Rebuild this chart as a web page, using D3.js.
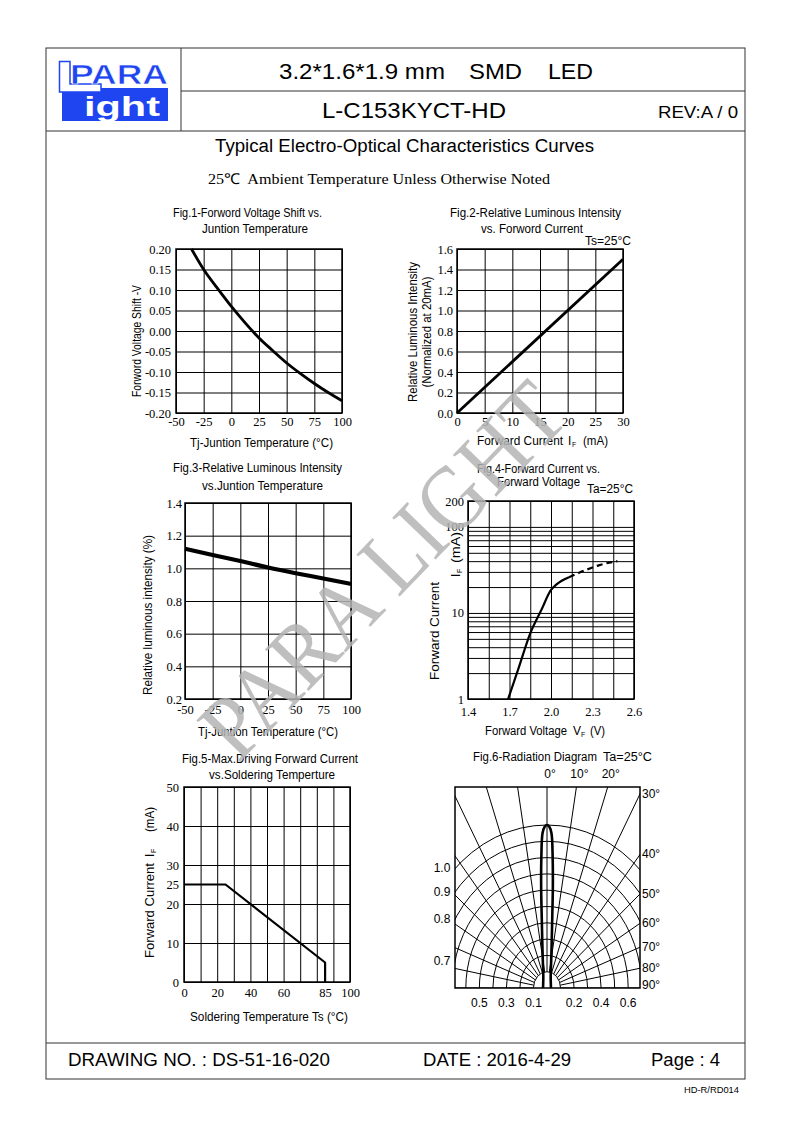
<!DOCTYPE html>
<html>
<head>
<meta charset="utf-8">
<script src="https://cdn.jsdelivr.net/npm/d3@7"></script>
<style>
  body { margin: 0; background: #fff; }
  svg { display: block; }
</style>
</head>
<body>
<svg width="793" height="1123"></svg>
<script>
// ---- data ----
// Fig.1 forward voltage shift vs junction temperature
const fig1Temp  = [-36, -25, -12.5, 0, 12.5, 25, 37.5, 50, 62.5, 75, 87.5, 100];
const fig1Shift = [0.20, 0.15, 0.104, 0.06, 0.02, -0.017, -0.048, -0.078, -0.104, -0.128, -0.15, -0.17];
const fig1XTicks = [-50, -25, 0, 25, 50, 75, 100];
const fig1YTicks = [-0.20, -0.15, -0.10, -0.05, 0.00, 0.05, 0.10, 0.15, 0.20];

// Fig.2 relative luminous intensity vs forward current
const fig2Current = [0, 30];
const fig2Intensity = [0, 1.5];
const fig2XTicks = [0, 5, 10, 15, 20, 25, 30];
const fig2YTicks = [0.0, 0.2, 0.4, 0.6, 0.8, 1.0, 1.2, 1.4, 1.6];

// Fig.3 relative luminous intensity vs junction temperature
const fig3Temp = [-50, -25, 0, 25, 50, 75, 100];
const fig3Intensity = [1.12, 1.082, 1.045, 1.005, 0.97, 0.938, 0.905];
const fig3XTicks = [-50, -25, 0, 25, 50, 75, 100];
const fig3YTicks = [0.2, 0.4, 0.6, 0.8, 1.0, 1.2, 1.4];

// Fig.4 forward current vs forward voltage (log)
const fig4VoltSolid = [1.69, 1.77, 1.85, 1.93, 2.0, 2.04, 2.13];
const fig4CurrSolid = [1, 2.4, 5.8, 10.8, 18.5, 21.5, 26];
const fig4VoltDash = [2.13, 2.25, 2.35, 2.48];
const fig4CurrDash = [26, 31.5, 36, 40];
const fig4XGrid = [1.4, 1.55, 1.7, 1.85, 2.0, 2.15, 2.3, 2.45, 2.6];
const fig4XTicks = [1.4, 1.7, 2.0, 2.3, 2.6];
const fig4YGrid = [1, 2, 3, 4, 5, 6, 7, 8, 9, 10, 20, 30, 40, 50, 60, 70, 80, 90, 100, 200];
const fig4YTicks = [1, 10, 100, 200];

// Fig.5 max driving forward current vs soldering temperature
const fig5Temp = [0, 25, 85, 85];
const fig5Current = [25, 25, 5, 0];
const fig5XGrid = [0, 10, 20, 30, 40, 50, 60, 70, 80, 90, 100];
const fig5XTicks = [0, 20, 40, 60, 85, 100];
const fig5YGrid = [0, 10, 20, 30, 40, 50];
const fig5YTicks = [0, 10, 20, 25, 30, 40, 50];

// Fig.6 radiation diagram
const fig6Angle = [-90, -75, -60, -45, -30, -20, -15, -10, -8, -6, -5, -4, -3, -2, -1, 0,
                   1, 2, 3, 4, 5, 6, 8, 10, 15, 20, 30, 45, 60, 75, 90];
const fig6Intensity = [0.028, 0.03, 0.033, 0.04, 0.055, 0.08, 0.11, 0.18, 0.24, 0.35, 0.45, 0.62, 0.80, 0.95, 0.99, 1.0,
                       0.99, 0.95, 0.80, 0.62, 0.45, 0.35, 0.24, 0.18, 0.11, 0.08, 0.055, 0.04, 0.033, 0.03, 0.028];
const fig6Rings = [0.1, 0.2, 0.3, 0.4, 0.5, 0.6, 0.7, 0.8, 0.9, 1.0];
const fig6Spokes = [-90, -80, -70, -60, -50, -40, -30, -20, -10, 0, 10, 20, 30, 40, 50, 60, 70, 80, 90];
const fig6TopAngles = [0, 10, 20];
const fig6SideAngles = [30, 40, 50, 60, 70, 80, 90];
const fig6LeftRings = [0.7, 0.8, 0.9, 1.0];
const fig6BottomRings = [0.1, 0.2, 0.3, 0.4, 0.5, 0.6];

// ---- drawing ----
const svg = d3.select("svg");
const sans = '"Liberation Sans", Arial, sans-serif';
const serif = '"Liberation Serif", "Times New Roman", serif';
const blue = "#1f45f0";

function txt(g, s, x, y, o = {}) {
  const t = g.append("text")
    .attr("x", x).attr("y", y)
    .attr("font-size", o.size || 12)
    .attr("font-family", o.serif ? serif : sans)
    .attr("font-weight", o.bold ? "bold" : null)
    .attr("text-anchor", o.anchor || "middle")
    .attr("fill", o.fill || "#000")
    .style("white-space", "pre")
    .text(s);
  if (o.w) t.attr("textLength", o.w).attr("lengthAdjust", "spacingAndGlyphs");
  if (o.rot) t.attr("transform", `rotate(-90,${x},${y})`);
  return t;
}

// page frame
const frame = svg.append("g").attr("stroke", "#333").attr("stroke-width", 1).attr("fill", "none");
frame.append("rect").attr("x", 46).attr("y", 48).attr("width", 699).attr("height", 1031);
frame.append("line").attr("x1", 181).attr("x2", 181).attr("y1", 48).attr("y2", 131);
frame.append("line").attr("x1", 181).attr("x2", 745).attr("y1", 91).attr("y2", 91);
frame.append("line").attr("x1", 46).attr("x2", 745).attr("y1", 131).attr("y2", 131);
frame.append("line").attr("x1", 46).attr("x2", 745).attr("y1", 1043).attr("y2", 1043);

// logo
const logo = svg.append("g");
logo.append("rect").attr("x", 62).attr("y", 88).attr("width", 106).attr("height", 33).attr("fill", blue);
logo.append("path").attr("d", "M59.5,61.5 H70 V84 H101 V92 H59.5 Z")
  .attr("fill", "#fff").attr("stroke", blue).attr("stroke-width", 1.5);
txt(logo, "PARA", 168, 84, { size: 28, bold: true, anchor: "end", w: 98, fill: blue })
  .attr("stroke", "#fff").attr("stroke-width", 0.6);
txt(logo, "ight", 84, 116, { size: 27, bold: true, anchor: "start", w: 76, fill: "#fff" });

// header texts
const head = svg.append("g");
txt(head, "3.2*1.6*1.9 mm", 279, 79, { size: 22, anchor: "start", w: 166 });
txt(head, "SMD", 469, 79, { size: 22, anchor: "start", w: 53 });
txt(head, "LED", 548, 79, { size: 22, anchor: "start", w: 45 });
txt(head, "L-C153KYCT-HD", 322, 118, { size: 22, anchor: "start", w: 184 });
txt(head, "REV:A / 0", 658, 118, { size: 16.5, anchor: "start", w: 80 });
txt(head, "Typical Electro-Optical Characteristics Curves", 215, 152, { size: 18, anchor: "start", w: 379 });
txt(head, "25℃  Ambient Temperature Unless Otherwise Noted", 208, 184, { size: 15, serif: true, anchor: "start", w: 342 });

// footer texts
txt(head, "DRAWING NO. : DS-51-16-020", 68, 1066, { size: 17.5, anchor: "start", w: 262 });
txt(head, "DATE : 2016-4-29", 423, 1066, { size: 17.5, anchor: "start", w: 148 });
txt(head, "Page : 4", 651, 1066, { size: 17.5, anchor: "start", w: 69 });
txt(head, "HD-R/RD014", 739, 1093, { size: 8.5, anchor: "end", w: 55 });

// grid + frame for a cartesian figure
function plotBox(g, x, y, xGrid, yGrid) {
  const [l, r] = x.range(), [b, t] = y.range();
  g.append("g").attr("transform", `translate(0,${b})`)
    .call(d3.axisBottom(x).tickValues(xGrid).tickSize(-(b - t)).tickFormat(""))
    .call(a => a.select(".domain").remove())
    .selectAll("line").attr("stroke", "#000").attr("stroke-width", 1);
  g.append("g").attr("transform", `translate(${l},0)`)
    .call(d3.axisLeft(y).tickValues(yGrid).tickSize(-(r - l)).tickFormat(""))
    .call(a => a.select(".domain").remove())
    .selectAll("line").attr("stroke", "#000").attr("stroke-width", 1);
  g.append("rect").attr("x", l).attr("y", t).attr("width", r - l).attr("height", b - t)
    .attr("fill", "none").attr("stroke", "#000").attr("stroke-width", 1.5);
}

function tickLabels(g, x, y, xTicks, yTicks, xFmt, yFmt, xPad, yPad) {
  const l = x.range()[0], b = y.range()[0];
  g.append("g").attr("transform", `translate(0,${b})`)
    .call(d3.axisBottom(x).tickValues(xTicks).tickSize(0).tickPadding(xPad).tickFormat(xFmt))
    .call(a => a.select(".domain").remove())
    .selectAll("text").attr("font-family", serif).attr("font-size", 12.5).attr("fill", "#000");
  g.append("g").attr("transform", `translate(${l},0)`)
    .call(d3.axisLeft(y).tickValues(yTicks).tickSize(0).tickPadding(yPad).tickFormat(yFmt))
    .call(a => a.select(".domain").remove())
    .selectAll("text").attr("font-family", serif).attr("font-size", 12.5).attr("fill", "#000");
}

function curve(g, xs, ys, x, y, width, shape, dash) {
  const pts = xs.map((v, i) => [v, ys[i]]);
  g.append("path").datum(pts)
    .attr("fill", "none").attr("stroke", "#000").attr("stroke-width", width)
    .attr("stroke-dasharray", dash || null)
    .attr("stroke-linejoin", "round")
    .attr("d", d3.line().x(d => x(d[0])).y(d => y(d[1])).curve(shape));
}

// Fig.1
const f1 = svg.append("g");
const x1 = d3.scaleLinear().domain([-50, 100]).range([176, 342]);
const y1 = d3.scaleLinear().domain([-0.2, 0.2]).range([413, 249]);
plotBox(f1, x1, y1, fig1XTicks, fig1YTicks);
tickLabels(f1, x1, y1, fig1XTicks, fig1YTicks, d => String(d), d => d.toFixed(2), 4, 5);
curve(f1, fig1Temp, fig1Shift, x1, y1, 2.8, d3.curveMonotoneX);
txt(f1, "Fig.1-Forword Voltage Shift vs.", 247.5, 217, { w: 149 });
txt(f1, "Juntion Temperature", 255, 233, { w: 106 });
txt(f1, "Forword Voltage Shift -V", 141, 341, { rot: true, w: 112 });
txt(f1, "Tj-Juntion Temperature (°C)", 261.5, 447, { w: 143 });

// Fig.2
const f2 = svg.append("g");
const x2 = d3.scaleLinear().domain([0, 30]).range([457, 623]);
const y2 = d3.scaleLinear().domain([0, 1.6]).range([413, 249]);
plotBox(f2, x2, y2, fig2XTicks, fig2YTicks);
tickLabels(f2, x2, y2, fig2XTicks, fig2YTicks, d => String(d), d => d.toFixed(1), 4, 4);
curve(f2, fig2Current, fig2Intensity, x2, y2, 2.8, d3.curveLinear);
txt(f2, "Fig.2-Relative Luminous Intensity", 535.5, 217, { w: 171 });
txt(f2, "vs. Forword Current", 532, 233, { w: 102 });
txt(f2, "Ts=25°C", 585, 245, { anchor: "start", w: 46 });
txt(f2, "Relative Luminous Intensity", 417, 332, { rot: true, w: 140 });
txt(f2, "(Normalized at 20mA)", 431, 332, { rot: true, w: 111 });
txt(f2, "Forward Current", 477, 445, { anchor: "start", w: 86 });
txt(f2, "I", 568, 445, { anchor: "start" });
txt(f2, "F", 572, 447, { anchor: "start", size: 7 });
txt(f2, "(mA)", 583, 445, { anchor: "start", w: 25 });

// Fig.3
const f3 = svg.append("g");
const x3 = d3.scaleLinear().domain([-50, 100]).range([185, 351]);
const y3 = d3.scaleLinear().domain([0.2, 1.4]).range([699, 503]);
plotBox(f3, x3, y3, fig3XTicks, fig3YTicks);
tickLabels(f3, x3, y3, fig3XTicks, fig3YTicks, d => String(d), d => d.toFixed(1), 6, 3);
curve(f3, fig3Temp, fig3Intensity, x3, y3, 4.2, d3.curveMonotoneX);
txt(f3, "Fig.3-Relative Luminous Intensity", 257.5, 472, { w: 169 });
txt(f3, "vs.Juntion Temperature", 262.5, 490, { w: 121 });
txt(f3, "Relative luminous intensity (%)", 152, 615, { rot: true, w: 160 });
txt(f3, "Tj-Juntion Temperature (°C)", 268, 736, { w: 140 });

// Fig.4
const f4 = svg.append("g");
const x4 = d3.scaleLinear().domain([1.4, 2.6]).range([468, 634]);
const y4 = d3.scaleLog().domain([1, 200]).range([699, 501]);
plotBox(f4, x4, y4, fig4XGrid, fig4YGrid);
tickLabels(f4, x4, y4, fig4XTicks, fig4YTicks, d => d.toFixed(1), d => String(d), 8, 4);
curve(f4, fig4VoltSolid, fig4CurrSolid, x4, y4, 2.2, d3.curveMonotoneX);
curve(f4, fig4VoltDash, fig4CurrDash, x4, y4, 2.2, d3.curveMonotoneX, "6,4");
txt(f4, "Fig.4-Forward Current vs.", 538.5, 473, { w: 123 });
txt(f4, "Forward Voltage", 538.5, 486, { w: 83 });
txt(f4, "Ta=25°C", 587, 493, { anchor: "start", w: 46 });
txt(f4, "Forward Current", 439, 680, { rot: true, anchor: "start", w: 98 });
txt(f4, "I", 460, 577, { rot: true, anchor: "start" });
txt(f4, "F", 462, 573, { rot: true, anchor: "start", size: 7 });
txt(f4, "(mA)", 460, 563, { rot: true, anchor: "start", w: 31 });
txt(f4, "Forward Voltage", 485, 735, { anchor: "start", w: 82 });
txt(f4, "V", 573, 735, { anchor: "start" });
txt(f4, "F", 581, 737, { anchor: "start", size: 7 });
txt(f4, "(V)", 590, 735, { anchor: "start", w: 15 });

// Fig.5
const f5 = svg.append("g");
const x5 = d3.scaleLinear().domain([0, 100]).range([184, 350]);
const y5 = d3.scaleLinear().domain([0, 50]).range([982, 787]);
plotBox(f5, x5, y5, fig5XGrid, fig5YGrid);
tickLabels(f5, x5, y5, fig5XTicks, fig5YTicks, d => String(d), d => String(d), 6, 5);
curve(f5, fig5Temp, fig5Current, x5, y5, 2.2, d3.curveLinear);
txt(f5, "Fig.5-Max.Driving Forward Current", 270, 763, { w: 176 });
txt(f5, "vs.Soldering Temperture", 272, 779, { w: 126 });
txt(f5, "Forward Current", 154, 958, { rot: true, anchor: "start", w: 95 });
txt(f5, "I", 154, 857, { rot: true, anchor: "start" });
txt(f5, "F", 156, 853, { rot: true, anchor: "start", size: 7 });
txt(f5, "(mA)", 154, 832, { rot: true, anchor: "start", w: 25 });
txt(f5, "Soldering Temperature Ts (°C)", 269, 1021, { w: 158 });

// Fig.6 radiation diagram (drawing is squashed horizontally)
const f6 = svg.append("g");
const box = { l: 455, r: 640, t: 787, b: 988 };
const cx = 547, cy = 988, squash = 0.83;
const rad = d3.scaleLinear().domain([0, 1]).range([0, 163]);
const toRad = a => a * Math.PI / 180;

f6.append("clipPath").attr("id", "f6clip").append("rect")
  .attr("x", box.l).attr("y", box.t).attr("width", box.r - box.l).attr("height", box.b - box.t);
const polar = f6.append("g").attr("clip-path", "url(#f6clip)")
  .append("g").attr("transform", `translate(${cx},${cy}) scale(${squash},1)`);

polar.selectAll("circle").data(fig6Rings).join("circle")
  .attr("r", d => rad(d)).attr("fill", "none").attr("stroke", "#000")
  .attr("stroke-width", 1).attr("vector-effect", "non-scaling-stroke");
polar.selectAll("line").data(fig6Spokes).join("line")
  .attr("x1", d => rad(0.1) * Math.sin(toRad(d))).attr("y1", d => -rad(0.1) * Math.cos(toRad(d)))
  .attr("x2", d => rad(3) * Math.sin(toRad(d))).attr("y2", d => -rad(3) * Math.cos(toRad(d)))
  .attr("stroke", "#000").attr("stroke-width", 1).attr("vector-effect", "non-scaling-stroke");
polar.append("path").datum(fig6Angle.map((a, i) => [a, fig6Intensity[i]]))
  .attr("fill", "none").attr("stroke", "#000").attr("stroke-width", 2.6)
  .attr("vector-effect", "non-scaling-stroke")
  .attr("d", d3.lineRadial().angle(d => toRad(d[0])).radius(d => rad(d[1])).curve(d3.curveCatmullRom));

f6.append("rect").attr("x", box.l).attr("y", box.t).attr("width", box.r - box.l).attr("height", box.b - box.t)
  .attr("fill", "none").attr("stroke", "#000").attr("stroke-width", 1.5);

// where a spoke leaves the box
function spokeHit(a) {
  const s = Math.sin(toRad(a)), c = Math.cos(toRad(a));
  const lTop = c > 1e-6 ? (cy - box.t) / c : Infinity;
  const lSide = s > 1e-6 ? (box.r - cx) / (squash * s) : Infinity;
  const L = Math.min(lTop, lSide);
  return [cx + squash * L * s, cy - L * c];
}
fig6TopAngles.forEach(a => txt(f6, a + "°", spokeHit(a)[0] + 3, box.t - 9, {}));
fig6SideAngles.forEach(a => txt(f6, a + "°", box.r + 2, Math.min(spokeHit(a)[1], box.b - 3) + 4, { anchor: "start" }));
fig6LeftRings.forEach(v => {
  const r = rad(v), dx = (cx - box.l) / (squash * r);
  const yy = cy - r * Math.sqrt(1 - dx * dx);
  txt(f6, v.toFixed(1), 442, yy + 4, {});
});
fig6BottomRings.forEach((v, i) => {
  const side = i % 2 === 0 ? -1 : 1;
  txt(f6, v.toFixed(1), cx + side * squash * rad(v), 1007, {});
});
txt(f6, "Fig.6-Radiation Diagram", 473, 761, { anchor: "start", w: 124 });
txt(f6, "Ta=25°C", 603, 761, { anchor: "start", w: 49 });

// watermark
svg.append("g")
  .attr("transform", "translate(238,764) rotate(-46)")
  .append("text")
  .attr("x", 0).attr("y", 0)
  .attr("font-family", serif).attr("font-size", 92)
  .attr("fill", "#b4b4b4").attr("opacity", 0.85)
  .attr("textLength", 480).attr("lengthAdjust", "spacingAndGlyphs")
  .style("white-space", "pre")
  .text("PARA LIGHT");
</script>
</body>
</html>
